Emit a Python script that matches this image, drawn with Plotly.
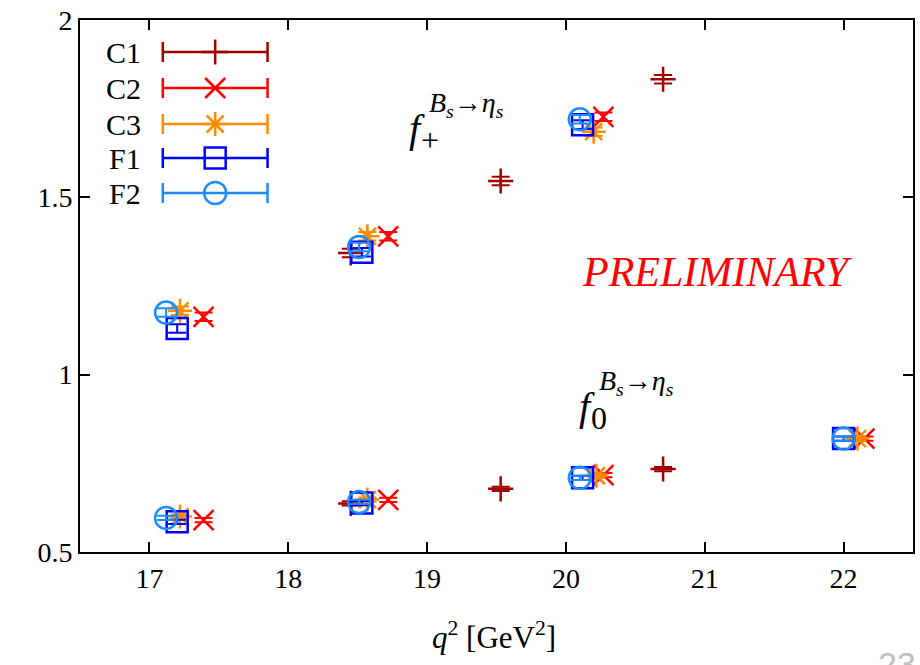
import plotly.graph_objects as go

# q^2 values [GeV^2] and form factors for each ensemble
q2_C1 = [18.45, 19.53, 20.70]
fp_C1 = [1.343, 1.546, 1.833]
f0_C1 = [0.637, 0.678, 0.734]

q2p_C2 = [17.39, 18.72, 20.27]
fp_C2 = [1.163, 1.390, 1.727]
q20_C2 = [17.39, 18.72, 20.27, 22.15]
f0_C2 = [0.590, 0.647, 0.717, 0.820]

q2p_C3 = [17.22, 18.57, 20.20]
fp_C3 = [1.180, 1.390, 1.685]
q20_C3 = [17.22, 18.57, 20.22, 22.10]
f0_C3 = [0.600, 0.648, 0.715, 0.820]

q2p_F1 = [17.20, 18.53, 20.12]
fp_F1 = [1.130, 1.345, 1.705]
q20_F1 = [17.20, 18.53, 20.12, 22.00]
f0_F1 = [0.585, 0.638, 0.709, 0.820]

q2p_F2 = [17.12, 18.51, 20.10]
fp_F2 = [1.175, 1.360, 1.720]
q20_F2 = [17.12, 18.51, 20.10, 22.00]
f0_F2 = [0.596, 0.641, 0.709, 0.820]

err_fp = 0.012
err_f0 = 0.006

x_ticks = [17, 18, 19, 20, 21, 22]
y_ticks = [0.5, 1, 1.5, 2]
y_tick_text = ["0.5", "1", "1.5", "2"]

names = ["C1", "C2", "C3", "F1", "F2"]
colors = ["#a00000", "#ff0000", "#ff8c00", "#0000ff", "#1a8cff"]
symbols = ["cross-thin-open", "x-thin-open", "asterisk-open", "square-open", "circle-open"]
sizes = [18, 20, 20, 21, 22]

series = [
    (q2_C1, fp_C1, q2_C1, f0_C1),
    (q2p_C2, fp_C2, q20_C2, f0_C2),
    (q2p_C3, fp_C3, q20_C3, f0_C3),
    (q2p_F1, fp_F1, q20_F1, f0_F1),
    (q2p_F2, fp_F2, q20_F2, f0_F2),
]

W, H = 920, 665
ML, MR, MT, MB = 80, 5, 20, 113
PW, PH = W - ML - MR, H - MT - MB


def px(xp):
    return (xp - ML) / PW


def py(yp):
    return (H - MB - yp) / PH


fig = go.Figure()
serif = "Liberation Serif, Times New Roman, serif"

for name, col, sym, sz, (xp_, yp_, x0_, y0_) in zip(names, colors, symbols, sizes, series):
    mk = dict(symbol=sym, size=sz, color=col, line=dict(color=col, width=2.5))
    for xs, ys, e in ((xp_, yp_, err_fp), (x0_, y0_, err_f0)):
        fig.add_trace(go.Scatter(
            x=xs, y=ys, mode="markers", marker=mk, showlegend=False,
            error_y=dict(type="constant", value=e, color=col, thickness=2, width=9),
        ))

# key rows: text on the left, error-bar sample on the right
key_rows = [52, 88, 124, 158, 193]
for name, col, sym, sz, row in zip(names, colors, symbols, sizes, key_rows):
    fig.add_trace(go.Scatter(
        x=[px(215.5)], y=[py(row)], xaxis="x2", yaxis="y2", mode="markers",
        marker=dict(symbol=sym, size=sz, color=col, line=dict(color=col, width=2.5)),
        error_x=dict(type="constant", value=px(268) - px(215.5), color=col,
                     thickness=2.5, width=10),
        showlegend=False, hoverinfo="skip",
    ))
    fig.add_annotation(text=name, xref="paper", yref="paper", x=px(143), y=py(row),
                       xanchor="right", yanchor="middle", showarrow=False,
                       font=dict(family=serif, size=30, color="black"))

axis_common = dict(showline=True, mirror="ticks", linecolor="black", linewidth=2,
                   ticks="inside", ticklen=10, tickwidth=2, tickcolor="black",
                   showgrid=False, zeroline=False,
                   tickfont=dict(family=serif, size=28, color="black"))

fig.update_layout(
    width=W, height=H,
    margin=dict(l=ML, r=MR, t=MT, b=MB),
    paper_bgcolor="white", plot_bgcolor="white",
    xaxis=dict(range=[16.5, 22.5], tickvals=x_ticks, **axis_common),
    yaxis=dict(range=[0.5, 2], tickvals=y_ticks, ticktext=y_tick_text, **axis_common),
    xaxis2=dict(range=[0, 1], overlaying="x", visible=False),
    yaxis2=dict(range=[0, 1], overlaying="y", visible=False),
)

# axis title
fig.add_annotation(text="<i>q</i><sup>2</sup> [GeV<sup>2</sup>]", xref="paper", yref="paper",
                   x=px(495), y=py(635), xanchor="center", yanchor="middle",
                   showarrow=False, font=dict(family=serif, size=31, color="black"))

# form-factor labels
def ff_label(x0, y0, sub):
    fig.add_annotation(text="<i>f</i>", xref="paper", yref="paper", x=px(x0), y=py(y0),
                       xanchor="left", yanchor="middle", showarrow=False,
                       font=dict(family=serif, size=40, color="black"))
    fig.add_annotation(text="<i>B<sub>s</sub></i>→<i>η<sub>s</sub></i>", xref="paper", yref="paper",
                       x=px(x0 + 20), y=py(y0 - 24), xanchor="left", yanchor="middle",
                       showarrow=False, font=dict(family=serif, size=28, color="black"))
    fig.add_annotation(text=sub, xref="paper", yref="paper", x=px(x0 + 12), y=py(y0 + 12),
                       xanchor="left", yanchor="middle", showarrow=False,
                       font=dict(family=serif, size=32, color="black"))


ff_label(408, 128, "+")
ff_label(578, 406, "0")

fig.add_annotation(text="<i>PRELIMINARY</i>", xref="paper", yref="paper",
                   x=px(719), y=py(272), xanchor="center", yanchor="middle",
                   showarrow=False, font=dict(family=serif, size=42, color="#ff0000"))

fig.add_annotation(text="23", xref="paper", yref="paper", x=px(878), y=py(643),
                   xanchor="left", yanchor="top", showarrow=False,
                   font=dict(family="Liberation Sans, Arial, sans-serif", size=34, color="#c0c0c0"))

fig.write_html("out.html")
